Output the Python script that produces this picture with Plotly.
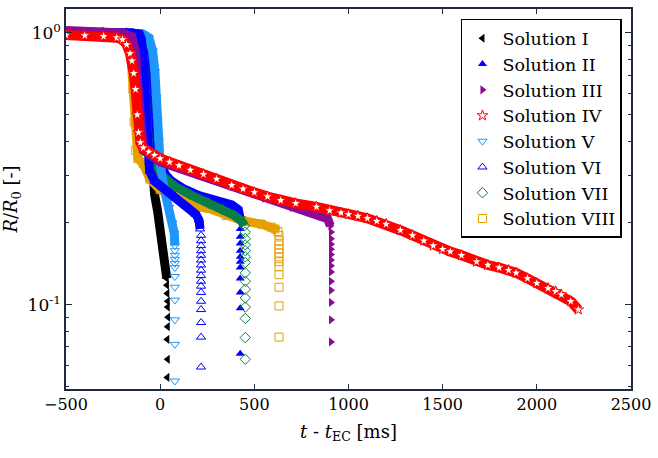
import plotly.graph_objects as go

# ---------------- data ----------------
# Solution I
t_I = [-500, -300, -150, -100, -85, -72, -62, -52, -42, -30, -14, 0, 12, 25, 35]
r_I = [1.0, 1.0, 1.0, 0.99, 0.95, 0.82, 0.62, 0.42, 0.30, 0.255, 0.222, 0.19, 0.16, 0.14, 0.125]
t_I_tail = [36, 38, 40, 40, 42, 40, 38, 40, 38]
r_I_tail = [0.118, 0.11, 0.103, 0.098, 0.09, 0.083, 0.0745, 0.063, 0.054]

# Solution II
t_II = [-500, -300, -150, -110, -95, -77, -60, -40, -25, -14, 0, 30, 60, 120, 206, 300, 380, 415, 425]
r_II = [1.01, 1.01, 1.0, 0.99, 0.95, 0.83, 0.65, 0.47, 0.40, 0.36, 0.33, 0.30, 0.285, 0.268, 0.252, 0.243, 0.233, 0.224, 0.207]
t_II_tail = [425] * 11
r_II_tail = [0.19, 0.178, 0.168, 0.158, 0.15, 0.144, 0.137, 0.125, 0.111, 0.097, 0.066]

# Solution III
t_III = [-500, -300, -200, -150, -130, -115, -105, -90, 0, 200, 380, 553, 700, 850, 889, 904]
r_III = [1.02, 1.015, 1.0, 0.97, 0.85, 0.6, 0.42, 0.37, 0.335, 0.30, 0.272, 0.246, 0.228, 0.212, 0.207, 0.195]
t_III_tail = [907] * 13
r_III_tail = [0.185, 0.175, 0.167, 0.16, 0.153, 0.146, 0.139, 0.132, 0.122, 0.113, 0.102, 0.088, 0.073]

# Solution IV
t_IV = [-500, -400, -300, -230, -200, -178, -160, -150, -140, -131, -122, -115, -105, -90, -60, -30,
        0, 50, 100, 160, 230, 300, 380, 440, 500, 570, 640, 720, 830, 900, 960, 1000, 1050, 1100,
        1150, 1200, 1275, 1340, 1400, 1450, 1500, 1540, 1600, 1680, 1740, 1800, 1850, 1890, 1950,
        2000, 2060, 2100, 2130, 2180, 2220]
r_IV = [0.982, 0.978, 0.972, 0.96, 0.945, 0.905, 0.84, 0.79, 0.71, 0.62, 0.50, 0.43, 0.395, 0.378, 0.365, 0.355,
        0.345, 0.335, 0.325, 0.313, 0.302, 0.29, 0.275, 0.267, 0.259, 0.25, 0.242, 0.236, 0.229, 0.222, 0.218, 0.215, 0.212, 0.208,
        0.203, 0.198, 0.188, 0.18, 0.172, 0.165, 0.16, 0.157, 0.152, 0.144, 0.14, 0.137, 0.134, 0.131, 0.125,
        0.12, 0.115, 0.112, 0.109, 0.103, 0.096]

# Solution V
t_V = [-500, -300, -150, -90, -60, -40, -28, -20, -14, -8, 0, 20, 48, 65, 75, 78]
r_V = [1.0, 1.0, 1.0, 0.99, 0.96, 0.86, 0.72, 0.58, 0.48, 0.40, 0.33, 0.27, 0.228, 0.2, 0.183, 0.165]
t_V_tail = [78] * 11
r_V_tail = [0.158, 0.152, 0.147, 0.142, 0.137, 0.127, 0.116, 0.104, 0.088, 0.0715, 0.0524]

# Solution VI
t_VI = [-500, -300, -150, -110, -100, -90, -80, -70, -56, -30, 12, 80, 153, 190, 206, 212]
r_VI = [1.01, 1.01, 1.0, 0.99, 0.95, 0.8, 0.6, 0.42, 0.31, 0.285, 0.27, 0.25, 0.228, 0.215, 0.205, 0.19]
t_VI_tail = [217] * 17
r_VI_tail = [0.18, 0.172, 0.165, 0.158, 0.152, 0.146, 0.14, 0.134, 0.128, 0.122, 0.117, 0.111,
             0.103, 0.096, 0.086, 0.076, 0.059]

# Solution VII
t_VII = [-500, -300, -180, -120, -100, -90, -80, -70, -56, -20, 12, 80, 160, 258, 330, 395, 432, 447]
r_VII = [1.0, 1.0, 1.0, 0.98, 0.95, 0.8, 0.6, 0.42, 0.33, 0.31, 0.296, 0.272, 0.254, 0.236, 0.224, 0.213, 0.203, 0.195]
t_VII_tail = [452] * 14
r_VII_tail = [0.185, 0.175, 0.166, 0.158, 0.15, 0.143, 0.131, 0.122, 0.114, 0.106, 0.098, 0.089, 0.0757, 0.063]

# Solution VIII
t_VIII = [-500, -300, -200, -175, -160, -152, -145, -138, -130, -118, -90, -55, 0, 100, 185, 259, 350, 437, 537, 590, 610, 625]
r_VIII = [1.0, 0.995, 0.985, 0.96, 0.87, 0.76, 0.62, 0.47, 0.37, 0.345, 0.33, 0.29, 0.265, 0.245, 0.23, 0.226, 0.213, 0.204, 0.198, 0.193, 0.19, 0.186]
t_VIII_tail = [631] * 12
r_VIII_tail = [0.18, 0.172, 0.166, 0.16, 0.155, 0.15, 0.144, 0.138, 0.129, 0.116, 0.099, 0.076]

x_ticks = [-500, 0, 500, 1000, 1500, 2000, 2500]
y_ticks = [0.1, 1]
y_ticktext = ["10<sup>-1</sup>", "10<sup>0</sup>"]
y_minor = [0.05, 0.06, 0.07, 0.08, 0.09, 0.2, 0.3, 0.4, 0.5, 0.6, 0.7, 0.8, 0.9]

# ---------------- styles ----------------
FONT = "DejaVu Serif"
AX = "#1f2940"
series = {
    "I":    dict(t=t_I, r=r_I, tt=t_I_tail, rt=r_I_tail, color="#000000", sym="triangle-left", fill=True, rank=1),
    "II":   dict(t=t_II, r=r_II, tt=t_II_tail, rt=r_II_tail, color="#0000FF", sym="triangle-up", fill=True, rank=2),
    "III":  dict(t=t_III, r=r_III, tt=t_III_tail, rt=r_III_tail, color="#8B0A96", sym="triangle-right", fill=True, rank=3),
    "IV":   dict(t=t_IV, r=r_IV, tt=[], rt=[], color="#FF0000", sym="star", fill=False, rank=4),
    "V":    dict(t=t_V, r=r_V, tt=t_V_tail, rt=r_V_tail, color="#1E96FA", sym="triangle-down-open", fill=False, rank=5),
    "VI":   dict(t=t_VI, r=r_VI, tt=t_VI_tail, rt=r_VI_tail, color="#0000FF", sym="triangle-up-open", fill=False, rank=6),
    "VII":  dict(t=t_VII, r=r_VII, tt=t_VII_tail, rt=r_VII_tail, color="#0B7D46", sym="diamond-open", fill=False, rank=7),
    "VIII": dict(t=t_VIII, r=r_VIII, tt=t_VIII_tail, rt=r_VIII_tail, color="#E69F00", sym="square-open", fill=False, rank=8),
}
draw_order = ["I", "VIII", "II", "VII", "V", "VI", "III", "IV"]

fig = go.Figure()
for key in draw_order:
    s = series[key]
    name = "Solution " + key
    fig.add_trace(go.Scatter(x=s["t"], y=s["r"], mode="lines",
                             line=dict(color=s["color"], width=10 if key == "IV" else 9),
                             showlegend=False, hoverinfo="skip"))
    if key == "IV":
        marker = dict(symbol="star", size=8, color="white", line=dict(color="#FF0000", width=1))
    elif s["fill"]:
        marker = dict(symbol=s["sym"], size=8, color=s["color"], line=dict(width=0))
    else:
        marker = dict(symbol=s["sym"], size=8, color=s["color"], line=dict(color=s["color"], width=1))
    fig.add_trace(go.Scatter(x=list(s["t"]) + list(s["tt"]), y=list(s["r"]) + list(s["rt"]),
                             mode="markers", marker=marker, name=name, legendrank=s["rank"]))

fig.update_layout(
    width=658, height=458,
    margin=dict(l=63, r=23, t=7, b=69),
    paper_bgcolor="white", plot_bgcolor="white",
    font=dict(family=FONT, color="black", size=16),
    legend=dict(x=0.984, y=0.974, xanchor="right", yanchor="top",
                bordercolor="black", borderwidth=1.5, bgcolor="white",
                font=dict(family=FONT, size=17.5, color="black"), tracegroupgap=0),
    xaxis=dict(range=[-500, 2500], tickvals=x_ticks, ticks="inside", ticklen=5, tickwidth=1,
               tickcolor=AX, showline=True, linecolor=AX, linewidth=1.5, mirror="ticks",
               showgrid=False, zeroline=False, tickfont=dict(size=16, family=FONT),
               title=dict(text="<i>t</i> - <i>t</i><sub>EC</sub> [ms]", font=dict(size=18, family=FONT), standoff=12)),
    yaxis=dict(type="log", range=[-1.31, 0.088], tickvals=y_ticks, ticktext=y_ticktext,
               ticks="inside", ticklen=6, tickwidth=1, tickcolor=AX,
               showline=True, linecolor=AX, linewidth=1.5, mirror="ticks",
               showgrid=False, zeroline=False, tickfont=dict(size=17, family=FONT),
               minor=dict(tickvals=y_minor, ticks="inside", ticklen=3, tickcolor=AX, showgrid=False),
               title=dict(text="<i>R</i>/<i>R</i><sub>0</sub> [-]", font=dict(size=18, family=FONT), standoff=8)),
)

fig.write_html("out.html")
